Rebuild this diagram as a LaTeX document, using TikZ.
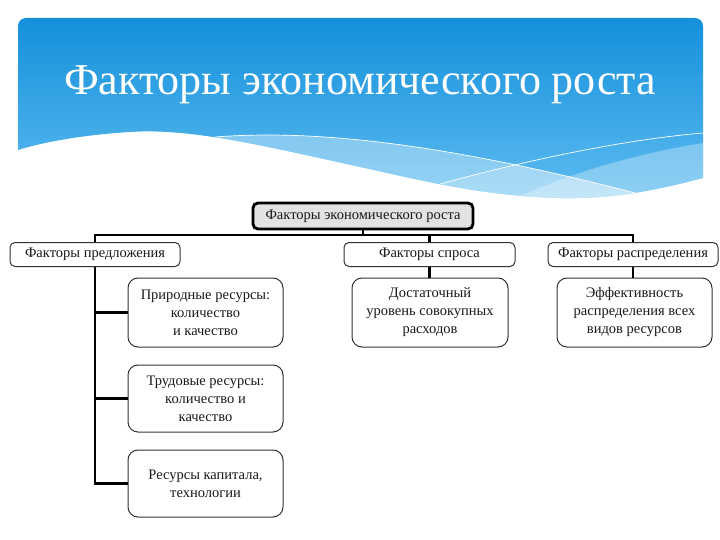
\documentclass[tikz,border=0pt]{standalone}
\usepackage{fontspec}
\setmainfont{Liberation Serif}
\definecolor{bannertop}{HTML}{1590DC}
\definecolor{bannerbot}{HTML}{5DBCF0}
\definecolor{boxline}{HTML}{333333}
\definecolor{topfill}{HTML}{E2E2E2}
\begin{document}
\begin{tikzpicture}[x=1pt,y=-1pt,
  boxtext/.style={align=center, font=\fontsize{14.5}{18}\selectfont, text=black!90, inner sep=0pt},
  topbox/.style={boxtext, draw=black, line width=2.8pt, fill=topfill, rounded corners=5pt, minimum width=220pt, minimum height=26pt},
  lvlbox/.style={boxtext, draw=boxline, line width=1pt, fill=white, rounded corners=5pt, minimum height=24pt},
  childbox/.style={boxtext, draw=boxline, line width=1pt, fill=white, rounded corners=10pt, minimum width=155pt},
  conn/.style={draw=black, line width=2.9pt}
]
\useasboundingbox (0,0) rectangle (720,540);
\fill[white] (0,0) rectangle (720,540);

% banner
\begin{scope}
\path[clip] (18,150) -- (18,60) [rounded corners=8pt] -- (18,18) -- (703,18) -- (703,60) [sharp corners] -- (703,178)
  .. controls (650,192) and (610,199) .. (560,198)
  .. controls (480,196) and (420,180) .. (360,167)
  .. controls (260,145) and (190,128) .. (130,132)
  .. controls (80,135) and (40,143) .. (18,150) -- cycle;
\shade[top color=bannertop, bottom color=bannerbot] (18,18) rectangle (703,200);
\fill[white, opacity=0.35] (215,137) .. controls (330,128) and (470,150) .. (643,195) -- (643,215) -- (215,215) -- cycle;
\fill[white, opacity=0.3] (703,143) .. controls (640,153) and (570,172) .. (500,205) -- (703,215) -- cycle;
\begin{scope}
\clip (215,137) .. controls (330,128) and (470,150) .. (643,195) -- (643,215) -- (215,215) -- cycle;
\fill[white, opacity=0.2] (440,184) .. controls (520,162) and (620,140) .. (703,133) -- (703,215) -- (400,215) -- (400,194) -- cycle;
\end{scope}
\draw[white, line width=0.7pt] (215,137) .. controls (330,128) and (470,150) .. (643,195);
\draw[white, line width=0.7pt] (440,184) .. controls (520,162) and (620,140) .. (703,133);
\end{scope}
\node[text=white, font=\fontsize{44}{50}\selectfont, anchor=base, inner sep=0pt] (title) at (360,95) {Факторы экономического роста};

% diagram
\node[topbox] (top) at (363,216) {Факторы экономического роста};
\node[lvlbox, minimum width=170pt] (sup) at (95,254.5) {Факторы предложения};
\node[lvlbox, minimum width=171pt] (dem) at (429.5,254.5) {Факторы спроса};
\node[lvlbox, minimum width=170pt] (dis) at (633,254.5) {Факторы распределения};

\node[childbox, minimum width=156pt, minimum height=69pt] (dc) at (430,312.5) {Достаточный\\уровень совокупных\\расходов};
\node[childbox, minimum height=69pt] (rc) at (634.5,312.5) {Эффективность\\распределения всех\\видов ресурсов};
\node[childbox, minimum height=69pt] (c1) at (205.5,312.5) {Природные ресурсы:\\количество\\и качество};
\node[childbox, minimum height=67pt] (c2) at (205.5,398.5) {Трудовые ресурсы:\\количество и\\качество};
\node[childbox, minimum height=67pt] (c3) at (205.5,483.5) {Ресурсы капитала,\\технологии};

\coordinate (bus) at (0,235);
\draw[conn] (top.south) -- (top.south |- bus);
\draw[conn] (sup.north) -- (sup.north |- bus) -- (dis.north |- bus) -- (dis.north);
\draw[conn] (dem.north |- bus) -- (dem.north);
\draw[conn] (dem.south) -- (dem.south |- dc.north);
\draw[conn] (dis.south) -- (dis.south |- rc.north);
\draw[conn] (sup.south) |- (c3.west);
\draw[conn] (sup.south |- c1.west) -- (c1.west);
\draw[conn] (sup.south |- c2.west) -- (c2.west);
\end{tikzpicture}
\end{document}
